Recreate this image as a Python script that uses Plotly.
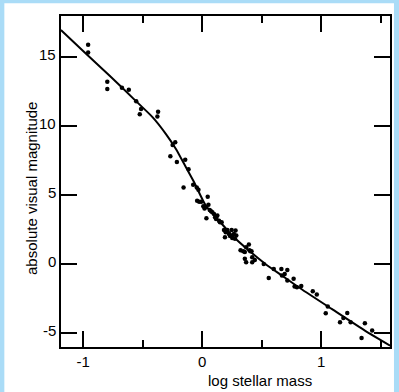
import plotly.graph_objects as go

# Observed stars: log mass vs absolute visual magnitude
star_logm = [-0.958, -0.958, -0.797, -0.797, -0.674, -0.616, -0.554, -0.513, -0.524,
             -0.370, -0.376, -0.248, -0.226, -0.267, -0.212, -0.142, -0.114, -0.156,
             -0.075, -0.045, -0.031, -0.042, -0.025, -0.008, 0.047, 0.031, 0.036,
             0.053, 0.064, 0.086, 0.100, 0.109, 0.128, 0.117, 0.142, 0.164, 0.184,
             0.198, 0.212, 0.226, 0.192, 0.248, 0.253, 0.267, 0.281, 0.276, 0.287,
             0.323, 0.359, 0.370, 0.393, 0.398, 0.415, 0.359, 0.370, 0.421, 0.421,
             0.443, 0.518, 0.560, 0.602, 0.666, 0.671, 0.694, 0.716, 0.716, 0.769,
             0.777, 0.797, 0.833, 0.930, 0.964, 1.056, 1.039, 1.159, 1.187, 1.220,
             1.248, 1.340, 1.368, 1.429,
             0.010, 0.075, 0.150, 0.235, 0.345, 0.405, 0.020, 0.120]
star_mag = [15.92, 15.36, 13.24, 12.71, 12.80, 12.66, 11.81, 11.26, 10.87,
            11.06, 10.72, 8.65, 8.84, 7.83, 7.42, 7.58, 6.88, 5.56,
            5.77, 5.56, 5.41, 4.61, 4.54, 4.54, 4.90, 4.13, 3.33,
            4.32, 3.94, 3.77, 3.65, 3.41, 3.53, 3.28, 3.16, 3.04, 2.49,
            2.32, 2.49, 2.20, 1.96, 2.49, 1.91, 2.20, 2.44, 1.84, 2.08,
            1.01, 0.89, 1.23, 1.43, 1.01, 0.94, 0.39, 0.14, 0.51, 0.14,
            0.31, 0.02, -0.99, -0.34, -0.34, -0.82, -0.70, -0.41, -1.18, -1.06,
            -1.62, -1.67, -1.57, -1.96, -2.20, -3.07, -3.55, -4.20, -3.89, -3.53,
            -4.20, -5.34, -4.28, -4.81,
            4.20, 3.85, 3.05, 2.05, 0.95, 0.95, 4.05, 3.45]

# Mass-luminosity relation curve
curve_logm = [-1.187, -1.000, -0.777, -0.554, -0.415, -0.304, -0.220, -0.136,
              -0.067, 0.031, 0.142, 0.253, 0.393, 0.532, 0.671, 0.811, 1.089,
              1.368, 1.580]
curve_mag = [16.98, 15.46, 13.67, 11.81, 10.65, 9.44, 8.36, 7.03,
             5.94, 4.25, 3.16, 2.08, 0.99, 0.02, -0.82, -1.67, -3.24,
             -4.81, -5.90]

x_ticks = [-1, 0, 1]
y_ticks = [-5, 0, 5, 10, 15]

FONT = "Liberation Sans, Arial, sans-serif"
PW = 331.0  # plot area size in px
BLUE = "#aadcf7"

def px_x(p):
    return (p - 61) / PW

def px_y(p):
    return (346.7 - p) / PW

fig = go.Figure()
fig.add_trace(go.Scatter(x=curve_logm, y=curve_mag, mode="lines",
                         line=dict(color="black", width=2, shape="spline", smoothing=0.6),
                         hoverinfo="skip", showlegend=False))
fig.add_trace(go.Scatter(x=star_logm, y=star_mag, mode="markers",
                         marker=dict(color="black", size=4.5),
                         showlegend=False))

# light-blue strips on left, top and right edges of the page
for (a, b, c, d) in [(-5, 4, -5, 400), (-5, 404, -5, 3), (396, 404, -5, 400)]:
    fig.add_shape(type="rect", xref="paper", yref="paper",
                  x0=px_x(a), x1=px_x(b), y0=px_y(d), y1=px_y(c),
                  fillcolor=BLUE, line=dict(width=0), layer="below")

annotations = [
    dict(text="log stellar mass", xref="paper", yref="paper",
         x=px_x(261.5), y=px_y(380),
         showarrow=False, xanchor="center", yanchor="middle",
         font=dict(size=15, family=FONT)),
    dict(text="absolute visual magnitude", xref="paper", yref="paper",
         x=px_x(31.5), y=px_y(188), textangle=-90,
         showarrow=False, xanchor="center", yanchor="middle",
         font=dict(size=15, family=FONT)),
]
# y tick labels placed close to the axis, slightly above each tick
for v in y_ticks:
    annotations.append(dict(text=str(v), xref="paper", yref="y",
                            x=px_x(57.5), y=v, yshift=3,
                            showarrow=False, xanchor="right", yanchor="middle",
                            font=dict(size=15, family=FONT)))

fig.update_layout(
    width=399, height=392,
    margin=dict(l=61, r=7, t=15.7, b=45.3),
    paper_bgcolor="white",
    plot_bgcolor="white",
    font=dict(family=FONT, size=15, color="black"),
    annotations=annotations,
)
fig.update_xaxes(range=[-1.186, 1.579], tickvals=x_ticks, ticktext=[str(v) for v in x_ticks],
                 ticks="inside", ticklen=16, tickwidth=1.5, tickcolor="black",
                 minor=dict(ticks="inside", ticklen=7, tickwidth=1.5, dtick=0.5, tick0=0,
                            tickcolor="black", showgrid=False),
                 showline=True, linewidth=2, linecolor="black", mirror="allticks",
                 showgrid=False, zeroline=False, tickfont=dict(size=15))
fig.update_yaxes(range=[-6, 18], tickvals=y_ticks, showticklabels=False,
                 ticks="inside", ticklen=16, tickwidth=1.5, tickcolor="black",
                 showline=True, linewidth=2, linecolor="black", mirror="allticks",
                 showgrid=False, zeroline=False)

fig.write_html("out.html")
